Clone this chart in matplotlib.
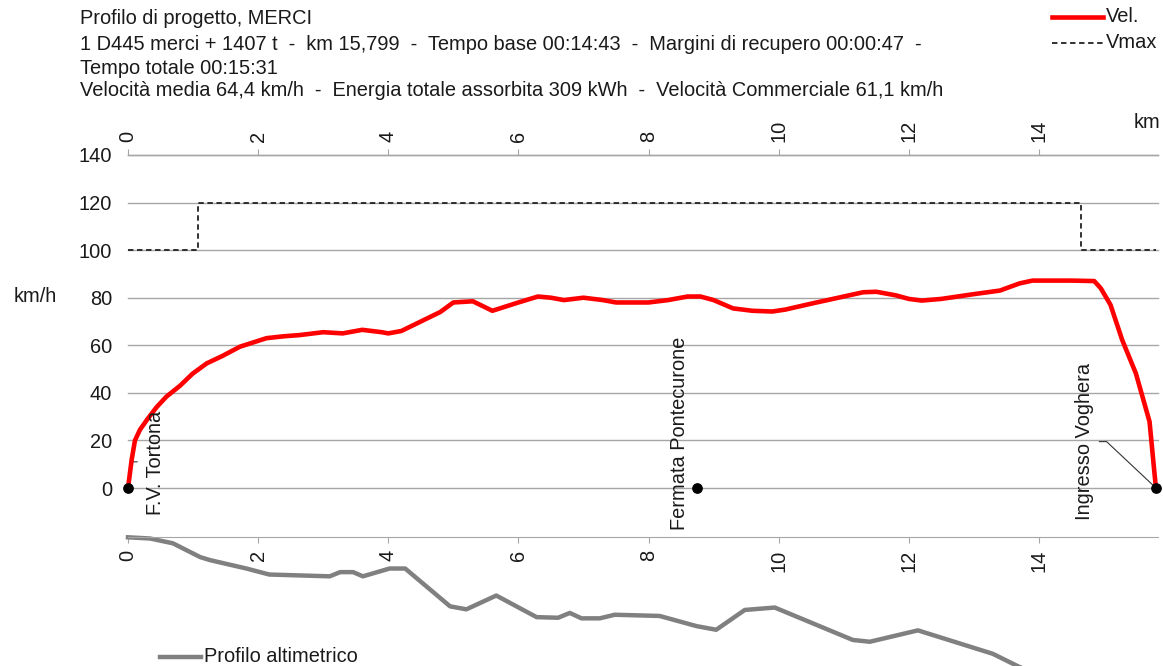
import matplotlib
matplotlib.use("Agg")
import matplotlib.pyplot as plt
from matplotlib.lines import Line2D

plt.rcParams['font.family'] = ['Liberation Sans', 'DejaVu Sans']

# Speed profile (km, km/h)
vel_km = [0.0, 0.057, 0.107, 0.184, 0.30, 0.44, 0.59, 0.80, 0.99, 1.21, 1.45, 1.72,
          2.13, 2.40, 2.64, 3.0, 3.3, 3.6, 3.9, 4.0, 4.2, 4.5, 4.8, 5.0, 5.3, 5.6,
          6.0, 6.3, 6.5, 6.7, 7.0, 7.3, 7.5, 8.0, 8.3, 8.6, 8.8, 9.0, 9.3, 9.6, 9.9,
          10.1, 10.5, 11.0, 11.3, 11.5, 11.8, 12.0, 12.2, 12.5, 13.0, 13.4, 13.7,
          13.9, 14.5, 14.85, 14.95, 15.1, 15.28, 15.49, 15.70, 15.78, 15.799]
vel_kmh = [0, 12, 20, 24.5, 29, 34, 38.4, 43, 48, 52.4, 55.5, 59.4,
           63, 63.8, 64.3, 65.5, 65, 66.5, 65.5, 65, 66, 70, 74, 78, 78.5, 74.5,
           78, 80.5, 80, 79, 80, 79, 78, 78, 79, 80.5, 80.5, 79, 75.5, 74.5, 74.2,
           75, 77.5, 80.5, 82.3, 82.5, 81, 79.5, 78.8, 79.5, 81.5, 83, 86,
           87.2, 87.2, 87, 84, 77, 62.2, 48.2, 27.9, 5, 0]

# Line speed limit (steps)
vmax_km = [0.0, 1.075, 14.64, 15.799]
vmax_kmh = [100, 120, 100, 100]

# Altitude profile (km, m)
alt_km = [0.0, 0.34, 0.69, 1.11, 1.26, 1.82, 2.17, 3.10, 3.26, 3.46, 3.61, 4.02,
          4.26, 4.95, 5.20, 5.66, 6.28, 6.61, 6.79, 6.97, 7.25, 7.48, 8.17, 8.74,
          9.04, 9.48, 9.94, 11.14, 11.40, 12.14, 13.29, 13.70, 14.5, 15.799]
alt_m = [122.0, 121.8, 121.0, 118.7, 118.2, 116.8, 115.8, 115.5, 116.2, 116.2,
         115.5, 116.8, 116.8, 110.5, 110.0, 112.3, 108.7, 108.6, 109.4, 108.5,
         108.5, 109.1, 108.9, 107.2, 106.6, 109.9, 110.3, 104.9, 104.6, 106.5,
         102.6, 100.4, 97.5, 95.5]

# Stations
stations = ["F.V. Tortona", "Fermata Pontecurone", "Ingresso Voghera"]
station_km = [0.0, 8.74, 15.799]

x_ticks = [0, 2, 4, 6, 8, 10, 12, 14]
y_ticks = [0, 20, 40, 60, 80, 100, 120, 140]

title_lines = [
    "Profilo di progetto, MERCI",
    "1 D445 merci + 1407 t  -  km 15,799  -  Tempo base 00:14:43  -  Margini di recupero 00:00:47  -",
    "Tempo totale 00:15:31",
    "Velocità media 64,4 km/h  -  Energia totale assorbita 309 kWh  -  Velocità Commerciale 61,1 km/h",
]

W, H = 1163, 666
fig = plt.figure(figsize=(W / 100, H / 100), dpi=100)
FS = 14.4
GRID = '#a6a6a6'
TXT = '#1a1a1a'


def fx(px):
    return px / W


def fy(py):
    return 1 - py / H


# Speed chart
ax = fig.add_axes([fx(128), fy(488), fx(1158) - fx(128), fy(155) - fy(488)])
ax.set_xlim(0, 15.83)
ax.set_ylim(0, 140)
for s in ['left', 'right', 'bottom']:
    ax.spines[s].set_visible(False)
ax.spines['top'].set_color(GRID)
ax.spines['top'].set_linewidth(1.0)
ax.xaxis.tick_top()
ax.set_xticks(x_ticks)
ax.set_xticklabels([str(t) for t in x_ticks], rotation=90)
ax.tick_params(axis='x', direction='out', length=4, color=GRID, labelsize=FS,
               pad=5, labelcolor=TXT)
ax.set_yticks(y_ticks)
ax.tick_params(axis='y', length=0, labelsize=FS, pad=11.5, labelcolor=TXT)
ax.grid(axis='y', color=GRID, linewidth=1.0)
for gl in ax.get_ygridlines():
    gl.set_clip_on(False)
ax.set_axisbelow(True)

ax.plot(vmax_km, vmax_kmh, drawstyle='steps-post', color='#222222',
        linestyle=(0, (3, 2)), linewidth=1.3, clip_on=False)
ax.plot(vel_km, vel_kmh, color='#ff0000', linewidth=3.3, solid_capstyle='round',
        clip_on=False, zorder=3)
ax.scatter(station_km, [0] * len(station_km), s=45, color='black', zorder=5,
           clip_on=False)

# Station names
label_pos = [(0.43, -11.5), (8.48, -17.5), (14.70, -13.5)]
for name, (lx, ly) in zip(stations, label_pos):
    ax.text(lx, ly, name, rotation=90, ha='center', va='bottom', fontsize=FS,
            color=TXT, clip_on=False)

# Leader lines to station names
ax.plot([0.0, 0.05, 0.14], [0, 11, 11], color='#333333', linewidth=0.8,
        clip_on=False)
ax.plot([15.799, 15.04, 14.93], [0, 19.5, 19.5], color='#333333', linewidth=0.8,
        clip_on=False)

# Altitude chart
ax2 = fig.add_axes([fx(128), fy(700), fx(1158) - fx(128), fy(537) - fy(700)])
ax2.set_xlim(0, 15.83)
ax2.set_ylim(94.9, 122.05)
for s in ['left', 'right', 'top']:
    ax2.spines[s].set_visible(False)
ax2.spines['bottom'].set_position(('axes', 1.0))
ax2.spines['bottom'].set_color(GRID)
ax2.set_yticks([])
ax2.set_xticks(x_ticks)
ax2.set_xticklabels([str(t) for t in x_ticks], rotation=90)
ax2.tick_params(axis='x', direction='out', length=4, color=GRID, labelsize=FS,
                pad=5, labelcolor=TXT)
ax2.patch.set_alpha(0)
ax2.plot(alt_km, alt_m, color='#808080', linewidth=3.2, clip_on=False)

# Texts
for i, line in enumerate(title_lines):
    fig.text(fx(80), fy([18, 44, 68, 91][i]), line, fontsize=FS, va='center',
             ha='left', color=TXT)
fig.text(fx(14), fy(296), "km/h", fontsize=FS, va='center', ha='left', color=TXT)
fig.text(fx(1134), fy(122), "km", fontsize=FS, va='center', ha='left', color=TXT)

# Legends
fig.add_artist(Line2D([fx(1052), fx(1103)], [fy(17), fy(17)], color='#ff0000',
                      linewidth=3.3, transform=fig.transFigure))
fig.text(fx(1106), fy(17), "Vel.", fontsize=FS, va='center', ha='left', color=TXT)
fig.add_artist(Line2D([fx(1052), fx(1103)], [fy(43), fy(43)], color='#222222',
                      linewidth=1.3, linestyle=(0, (3, 2)),
                      transform=fig.transFigure))
fig.text(fx(1106), fy(43), "Vmax", fontsize=FS, va='center', ha='left', color=TXT)
fig.add_artist(Line2D([fx(160), fx(201)], [fy(657), fy(657)], color='#808080',
                      linewidth=3.2, transform=fig.transFigure))
fig.text(fx(204), fy(657), "Profilo altimetrico", fontsize=FS, va='center',
         ha='left', color=TXT)

fig.savefig("out.png", dpi=100)
